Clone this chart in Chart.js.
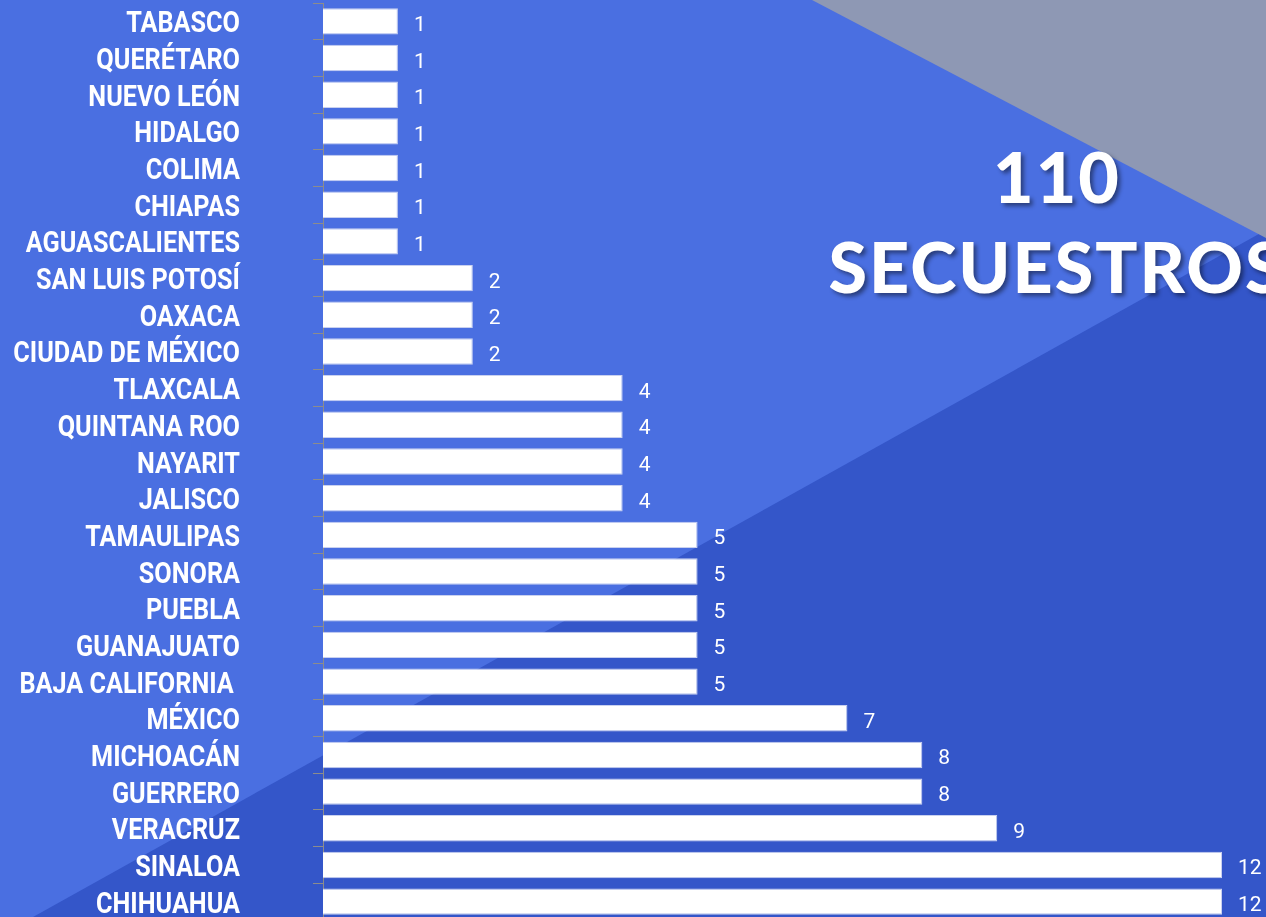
<!DOCTYPE html>
<html>
<head>
<meta charset="utf-8">
<script src="https://cdn.jsdelivr.net/npm/chart.js@4/dist/chart.umd.min.js"></script>
<style>
  html, body { margin: 0; padding: 0; width: 1266px; height: 917px; overflow: hidden; background: #4a6fe1; }
  .bg { position: absolute; left: 0; top: 0; width: 1266px; height: 917px; }
  #gray { background: #8e98b4; clip-path: polygon(812px 0, 1266px 0, 1266px 238px); }
  #dark { background: #3456c9; clip-path: polygon(33px 917px, 1266px 230px, 1266px 917px); }
  #wrap { position: absolute; left: 0; top: 0; width: 1266px; height: 921px; }
  #title {
    position: absolute; left: 757px; top: 131px; width: 600px;
    text-align: center; color: #fff;
    font-family: Lato, "DejaVu Sans", sans-serif; font-weight: 900;
    font-size: 70px; line-height: 90px; letter-spacing: 2px;
    text-shadow: 3px 3px 4px rgba(0,0,0,0.45);
  }
</style>
</head>
<body>
<div class="bg" id="dark"></div>
<div class="bg" id="gray"></div>
<div id="wrap"><canvas id="myChart"></canvas></div>
<div id="title">110<br>SECUESTROS</div>
<script>
var states = ["TABASCO","QUERÉTARO","NUEVO LEÓN","HIDALGO","COLIMA","CHIAPAS","AGUASCALIENTES",
  "SAN LUIS POTOSÍ","OAXACA","CIUDAD DE MÉXICO","TLAXCALA","QUINTANA ROO","NAYARIT","JALISCO",
  "TAMAULIPAS","SONORA","PUEBLA","GUANAJUATO","BAJA CALIFORNIA ","MÉXICO","MICHOACÁN","GUERRERO",
  "VERACRUZ","SINALOA","CHIHUAHUA"]
var secuestros = [1,1,1,1,1,1,1,2,2,2,4,4,4,4,5,5,5,5,5,7,8,8,9,12,12]
var xMax = 12

// state names, drawn narrow like a condensed face (no condensed font installed)
const stateLabels = {
    id: 'stateLabels',
    afterDraw(chart) {
        const ctx = chart.ctx
        const yScale = chart.scales.y
        const squeeze = 0.87
        ctx.save()
        ctx.fillStyle = '#fff'
        ctx.font = 'bold 29px Roboto, sans-serif'
        ctx.textAlign = 'right'
        ctx.textBaseline = 'alphabetic'
        chart.data.labels.forEach((lab, i) => {
            const y = yScale.getPixelForTick(i)
            ctx.save()
            ctx.translate(240, y + 11)
            ctx.scale(squeeze, 1)
            ctx.fillText(lab, 0, 0)
            ctx.restore()
        })
        ctx.restore()
    }
}

// numbers to the right of each bar
const valueLabels = {
    id: 'valueLabels',
    afterDatasetsDraw(chart) {
        const ctx = chart.ctx
        const meta = chart.getDatasetMeta(0)
        ctx.save()
        ctx.fillStyle = '#fff'
        ctx.font = '21px Roboto, sans-serif'
        ctx.textAlign = 'left'
        ctx.textBaseline = 'alphabetic'
        meta.data.forEach((bar, i) => {
            ctx.fillText(secuestros[i], bar.x + 16, bar.y + 9.5)
        })
        ctx.restore()
    }
}

var chartField = document.querySelector("#myChart").getContext("2d")
var myChart = new Chart(chartField, {
    type: "bar",
    data: {
        labels: states,
        datasets: [{
            data: secuestros,
            backgroundColor: "#ffffff",
            borderColor: "#c9d1ef",
            borderWidth: 1,
            barPercentage: 0.72,
            categoryPercentage: 1
        }]
    },
    plugins: [valueLabels, stateLabels],
    options: {
        indexAxis: 'y',
        responsive: true,
        maintainAspectRatio: false,
        animation: false,
        layout: { padding: { top: 3, bottom: 1, left: 0, right: 44 } },
        plugins: { legend: { display: false }, tooltip: { enabled: false } },
        scales: {
            x: { display: false, min: 0, max: xMax },
            y: {
                afterFit(scale) { scale.width = 323; scale.paddingTop = 0; scale.paddingBottom = 0 },
                border: { display: true, color: '#8c8c8c', width: 1 },
                grid: { drawOnChartArea: false, drawTicks: true, tickLength: 10, color: '#8c8c8c', offset: true },
                ticks: { display: false }
            }
        }
    }
});
</script>
</body>
</html>
